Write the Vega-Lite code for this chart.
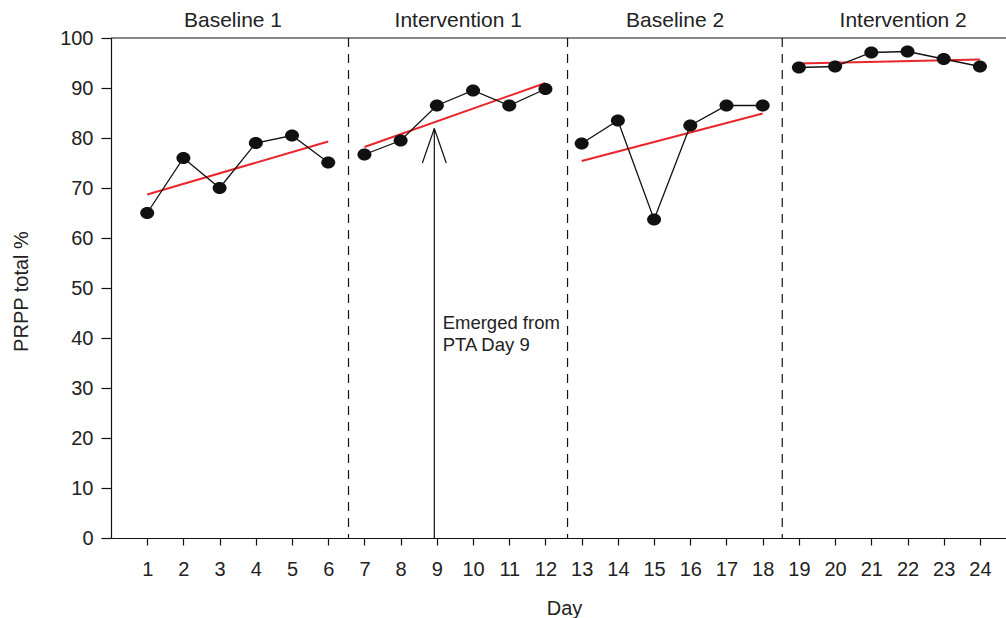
{
  "$schema": "https://vega.github.io/schema/vega-lite/v6.json",
  "width": 895,
  "height": 500,
  "autosize": "none",
  "padding": {"left": 111, "top": 38, "right": 0, "bottom": 80},
  "config": {
    "view": {"stroke": null},
    "font": "Liberation Sans",
    "axis": {"grid": false, "labelOverlap": false, "domainColor": "#111", "tickColor": "#111", "labelColor": "#222", "titleColor": "#222", "domainWidth": 1.2, "tickWidth": 1.2, "labelFont": "Liberation Sans", "titleFont": "Liberation Sans", "titleFontWeight": "normal"}
  },
  "datasets": {
    "obs": [
      {"day": 1, "value": 65, "phase": "Baseline 1"},
      {"day": 2, "value": 76, "phase": "Baseline 1"},
      {"day": 3, "value": 70, "phase": "Baseline 1"},
      {"day": 4, "value": 79, "phase": "Baseline 1"},
      {"day": 5, "value": 80.5, "phase": "Baseline 1"},
      {"day": 6, "value": 75.1, "phase": "Baseline 1"},
      {"day": 7, "value": 76.7, "phase": "Intervention 1"},
      {"day": 8, "value": 79.5, "phase": "Intervention 1"},
      {"day": 9, "value": 86.5, "phase": "Intervention 1"},
      {"day": 10, "value": 89.5, "phase": "Intervention 1"},
      {"day": 11, "value": 86.5, "phase": "Intervention 1"},
      {"day": 12, "value": 89.8, "phase": "Intervention 1"},
      {"day": 13, "value": 78.9, "phase": "Baseline 2"},
      {"day": 14, "value": 83.5, "phase": "Baseline 2"},
      {"day": 15, "value": 63.7, "phase": "Baseline 2"},
      {"day": 16, "value": 82.5, "phase": "Baseline 2"},
      {"day": 17, "value": 86.5, "phase": "Baseline 2"},
      {"day": 18, "value": 86.5, "phase": "Baseline 2"},
      {"day": 19, "value": 94.1, "phase": "Intervention 2"},
      {"day": 20, "value": 94.3, "phase": "Intervention 2"},
      {"day": 21, "value": 97.1, "phase": "Intervention 2"},
      {"day": 22, "value": 97.3, "phase": "Intervention 2"},
      {"day": 23, "value": 95.8, "phase": "Intervention 2"},
      {"day": 24, "value": 94.3, "phase": "Intervention 2"}
    ],
    "trend": [
      {"day": 1, "value": 68.7, "phase": "Baseline 1"},
      {"day": 6, "value": 79.3, "phase": "Baseline 1"},
      {"day": 7, "value": 78.2, "phase": "Intervention 1"},
      {"day": 12, "value": 91.0, "phase": "Intervention 1"},
      {"day": 13, "value": 75.4, "phase": "Baseline 2"},
      {"day": 18, "value": 84.9, "phase": "Baseline 2"},
      {"day": 19, "value": 94.9, "phase": "Intervention 2"},
      {"day": 24, "value": 95.7, "phase": "Intervention 2"}
    ],
    "dividers": [{"x": 6.56}, {"x": 12.61}, {"x": 18.54}],
    "phaselabels": [
      {"x": 3.37, "y": 102.3, "label": "Baseline 1"},
      {"x": 9.59, "y": 102.3, "label": "Intervention 1"},
      {"x": 15.58, "y": 102.3, "label": "Baseline 2"},
      {"x": 21.88, "y": 102.3, "label": "Intervention 2"}
    ],
    "arrow": [
      {"x": 8.93, "y": 0, "x2": 8.93, "y2": 81.9},
      {"x": 8.60, "y": 75.0, "x2": 8.93, "y2": 81.9},
      {"x": 9.26, "y": 75.0, "x2": 8.93, "y2": 81.9}
    ],
    "note": [
      {"x": 9.16, "y": 41.8, "label": "Emerged from"},
      {"x": 9.16, "y": 37.4, "label": "PTA Day 9"}
    ],
    "top": [{"y": 100}]
  },
  "layer": [
    {
      "data": {"name": "top"},
      "mark": {"type": "rule", "color": "#111", "strokeWidth": 1.2},
      "encoding": {
        "y": {
          "field": "y", "type": "quantitative",
          "scale": {"domain": [0, 100], "nice": false},
          "axis": {
            "values": [0,10,20,30,40,50,60,70,80,90,100], "tickCount": 20,
            "tickSize": 10, "labelPadding": 8, "labelFontSize": 20, "labelOverlap": false,
            "title": "PRPP total %", "titleFontSize": 20, "titleX": -90, "titleY": 253, "titleBaseline": "middle", "titleAngle": -90, "titleAnchor": "middle"
          }
        }
      }
    },
    {
      "data": {"name": "dividers"},
      "mark": {"type": "rule", "color": "#111", "strokeWidth": 1.2, "strokeDash": [9, 7]},
      "encoding": {
        "x": {
          "field": "x", "type": "quantitative",
          "scale": {"domain": [0, 24.72], "nice": false, "zero": false},
          "axis": {
            "values": [1,2,3,4,5,6,7,8,9,10,11,12,13,14,15,16,17,18,19,20,21,22,23,24], "tickCount": 30,
            "tickSize": 7, "labelPadding": 14, "labelFontSize": 20, "labelFlush": false, "labelOverlap": false,
            "title": "Day", "titleFontSize": 20, "titleX": 453, "titleY": 60, "titleBaseline": "top", "titleAnchor": "middle"
          }
        }
      }
    },
    {
      "data": {"name": "arrow"},
      "mark": {"type": "rule", "color": "#111", "strokeWidth": 1.2},
      "encoding": {
        "x": {"field": "x", "type": "quantitative"},
        "y": {"field": "y", "type": "quantitative"},
        "x2": {"field": "x2"},
        "y2": {"field": "y2"}
      }
    },
    {
      "data": {"name": "trend"},
      "mark": {"type": "line", "color": "#e8262b", "strokeWidth": 2},
      "encoding": {
        "x": {"field": "day", "type": "quantitative"},
        "y": {"field": "value", "type": "quantitative"},
        "detail": {"field": "phase"}
      }
    },
    {
      "data": {"name": "obs"},
      "mark": {"type": "line", "color": "#111", "strokeWidth": 1.3},
      "encoding": {
        "x": {"field": "day", "type": "quantitative"},
        "y": {"field": "value", "type": "quantitative"},
        "detail": {"field": "phase"}
      }
    },
    {
      "data": {"name": "obs"},
      "mark": {"type": "point", "shape": "M -1 0 A 1 0.86 0 1 1 1 0 A 1 0.86 0 1 1 -1 0 Z", "filled": true, "color": "#111", "opacity": 1, "size": 196},
      "encoding": {
        "x": {"field": "day", "type": "quantitative"},
        "y": {"field": "value", "type": "quantitative"}
      }
    },
    {
      "data": {"name": "phaselabels"},
      "mark": {"type": "text", "fontSize": 21, "color": "#222", "align": "center", "baseline": "alphabetic", "clip": false},
      "encoding": {
        "x": {"field": "x", "type": "quantitative"},
        "y": {"field": "y", "type": "quantitative"},
        "text": {"field": "label"}
      }
    },
    {
      "data": {"name": "note"},
      "mark": {"type": "text", "fontSize": 18.5, "color": "#222", "align": "left", "baseline": "alphabetic"},
      "encoding": {
        "x": {"field": "x", "type": "quantitative"},
        "y": {"field": "y", "type": "quantitative"},
        "text": {"field": "label"}
      }
    }
  ]
}
